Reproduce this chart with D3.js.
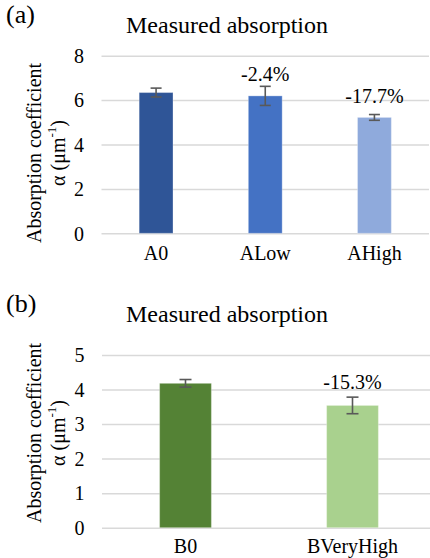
<!DOCTYPE html>
<html>
<head>
<meta charset="utf-8">
<script src="https://cdn.jsdelivr.net/npm/d3@7"></script>
<style>
  html, body { margin: 0; padding: 0; background: #fff; }
  svg { display: block; }
</style>
</head>
<body>
<svg id="chart" width="430" height="558"></svg>
<script>
// Panel (a): A series
const catsA = ["A0", "ALow", "AHigh"];
const valsA = [6.34, 6.19, 5.22];
const errsA = [0.20, 0.43, 0.13];
const labelsA = ["", "-2.4%", "-17.7%"];
const ticksA = [0, 2, 4, 6, 8];
const colorsA = ["#2F5597", "#4472C4", "#8FAADC"];

// Panel (b): B series
const catsB = ["B0", "BVeryHigh"];
const valsB = [4.18, 3.54];
const errsB = [0.11, 0.24];
const labelsB = ["", "-15.3%"];
const ticksB = [0, 1, 2, 3, 4, 5];
const colorsB = ["#548235", "#A9D18E"];

const FONT = '"Liberation Serif"';
const svg = d3.select("#chart").style("font-family", FONT);

function serif(sel, size) {
  return sel.style("font-family", FONT).style("font-size", size + "px").attr("fill", "#000");
}

function panel(cfg) {
  const g = svg.append("g");
  const x = d3.scaleBand().domain(cfg.cats).range([cfg.left, cfg.right])
    .paddingInner(0.69).paddingOuter(0.345);
  const y = d3.scaleLinear().domain([0, d3.max(cfg.ticks)]).range([cfg.bottom, cfg.top]);

  // gridlines and tick labels
  const yAxis = d3.axisLeft(y).tickValues(cfg.ticks)
    .tickSize(-(cfg.right - cfg.left)).tickPadding(17.5).tickFormat(d3.format("d"));
  const ya = g.append("g").attr("transform", `translate(${cfg.left},0)`).call(yAxis);
  ya.select(".domain").remove();
  ya.selectAll(".tick line").attr("stroke", "#D9D9D9").attr("stroke-width", 1.5);
  serif(ya.selectAll(".tick text"), 20).attr("dy", "0.34em");

  // category labels
  const xAxis = d3.axisBottom(x).tickSize(0);
  const xa = g.append("g").attr("transform", `translate(0,${cfg.bottom})`).call(xAxis);
  xa.select(".domain").remove();
  serif(xa.selectAll(".tick text"), 20).attr("y", cfg.xLabelOffset).attr("dy", null);

  // bars
  g.selectAll("rect.bar").data(cfg.vals).join("rect")
    .attr("class", "bar")
    .attr("x", (d, i) => x(cfg.cats[i]))
    .attr("width", x.bandwidth())
    .attr("y", d => y(d))
    .attr("height", d => y(0) - y(d))
    .attr("fill", (d, i) => cfg.colors[i])
    .attr("stroke", "#ffffff").attr("stroke-opacity", 0.3).attr("stroke-width", 1);

  // error bars
  const cap = cfg.cap;
  const eb = g.selectAll("g.err").data(cfg.vals).join("g").attr("class", "err")
    .attr("stroke", "#595959").attr("stroke-width", 1.6);
  eb.append("line")
    .attr("x1", (d, i) => x(cfg.cats[i]) + x.bandwidth() / 2)
    .attr("x2", (d, i) => x(cfg.cats[i]) + x.bandwidth() / 2)
    .attr("y1", (d, i) => y(d + cfg.errs[i]))
    .attr("y2", (d, i) => y(d - cfg.errs[i]));
  [1, -1].forEach(s => {
    eb.append("line")
      .attr("x1", (d, i) => x(cfg.cats[i]) + x.bandwidth() / 2 - cap / 2)
      .attr("x2", (d, i) => x(cfg.cats[i]) + x.bandwidth() / 2 + cap / 2)
      .attr("y1", (d, i) => y(d + s * cfg.errs[i]))
      .attr("y2", (d, i) => y(d + s * cfg.errs[i]));
  });

  // change labels above bars
  serif(g.selectAll("text.dl").data(cfg.vals).join("text"), 20)
    .attr("class", "dl")
    .attr("x", (d, i) => x(cfg.cats[i]) + x.bandwidth() / 2)
    .attr("y", d => y(d) - cfg.labelGap)
    .attr("text-anchor", "middle")
    .text((d, i) => cfg.labels[i]);

  // title and panel letter
  serif(g.append("text"), 24).attr("x", 227).attr("y", cfg.titleY)
    .attr("text-anchor", "middle").text("Measured absorption");
  serif(g.append("text"), 26).attr("x", 6).attr("y", cfg.letterY).text(cfg.letter);

  // y-axis title, two rotated lines
  serif(g.append("text"), 20)
    .attr("transform", `translate(34,${cfg.yTitleC}) rotate(-90)`)
    .attr("text-anchor", "middle").attr("dominant-baseline", "central")
    .text("Absorption coefficient");
  const t2 = serif(g.append("text"), 20)
    .attr("transform", `translate(58,${cfg.yTitleC}) rotate(-90)`)
    .attr("text-anchor", "middle").attr("dominant-baseline", "central");
  t2.append("tspan").text("α (μm");
  t2.append("tspan").style("font-size", "13px").attr("dy", -7).text("-1");
  t2.append("tspan").attr("dy", 7).text(")");
}

panel({
  cats: catsA, vals: valsA, errs: errsA, labels: labelsA, ticks: ticksA, colors: colorsA,
  left: 101.5, right: 429, top: 55.7, bottom: 233.3,
  xLabelOffset: 27, cap: 11, labelGap: 14.5,
  titleY: 33, letter: "(a)", letterY: 23, yTitleC: 153
});

panel({
  cats: catsB, vals: valsB, errs: errsB, labels: labelsB, ticks: ticksB, colors: colorsB,
  left: 102, right: 436, top: 355, bottom: 527.7,
  xLabelOffset: 25.5, cap: 12, labelGap: 16,
  titleY: 321.7, letter: "(b)", letterY: 311.5, yTitleC: 433
});
</script>
</body>
</html>
